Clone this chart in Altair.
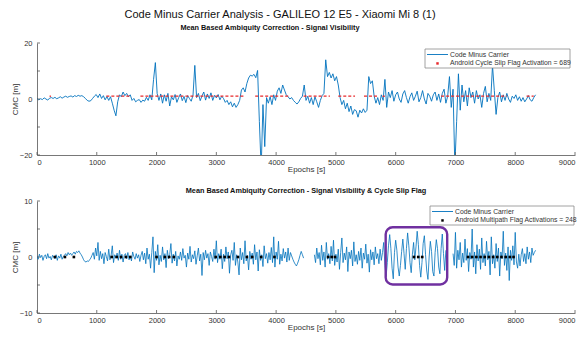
import altair as alt
import pandas as pd

# ---------------- data ----------------
TOP_STEP = 30
BOT_STEP = 20

top_cmc = [
    0.2, -0.3, 0.1, -0.2, 0.4, 0.0, -0.4, 0.3, 0.5, 0.2,
    0.6, 0.1, 0.4, 0.8, 0.3, 0.7, 1.0, 0.6, 0.9, 1.1,
    0.7, 1.2, 0.9, 1.3, 1.0, 1.2, 0.8, 0.2, -0.5, -0.8,
    -0.6, 0.2, 1.0, 1.6, 0.5, 1.8, 0.2, 1.2, -0.3, 0.9,
    -0.5, 0.8, -1.5, -4.0, -6.0, -1.0, 1.5, 0.8, 2.5, 1.2,
    2.0, 0.8, 1.5, -0.5, 0.2, -1.0, -0.5, -0.2, -1.2, -0.4,
    -0.8, 0.6, -0.5, 1.5, -0.3, 7.0, 13.0, 2.0, -0.5, 1.8,
    -1.5, 1.5, -0.8, 2.0, -2.5, 0.8, -0.3, 1.6, -1.2, 0.5,
    1.8, -0.6, 0.9, -1.3, 1.2, 0.2, -0.8, 1.4, 12.0, 0.5,
    2.0, -0.6, 1.1, 2.5, -0.4, 1.8, 0.2, 2.2, -0.5, 1.3,
    0.4, 1.6, -0.3, 1.0, 0.2, -1.2, -0.5, -2.0, -1.0, -2.8,
    -1.5, -3.0, -2.0, -0.5, 3.2, 4.0, 2.5, 5.5, 7.5, 8.5,
    8.2, 8.8, 7.6, 10.2, -8.0, -25.0, -2.0, -17.0, 0.5, -1.5,
    0.8, -2.0, 1.5, -0.5, 2.8, 4.0, 2.0, 5.0, 3.2, 1.5,
    0.8, 0.0, 0.5, -0.5, -1.2, -1.8, -1.0, 0.2, 1.0, 5.0,
    -0.5, 1.0, -1.5, 0.5, -2.0, 0.8, -1.0, -3.0, -0.5, 1.2,
    2.0, 14.0, 8.0, 9.5, 7.5, 9.0, 6.5, 8.0, 5.0, 0.5,
    -2.0, -0.5, -3.5, -1.5, -4.5, -2.5, -5.5, -3.8, -4.2, -6.5,
    -4.0, -5.0, -3.5, -4.8, -4.0, 8.0, 5.5, 6.5, 1.0, -1.5,
    0.5, -2.0, 1.5, -0.5, 7.0, -3.0, 2.5, 0.5, 3.0, -0.8,
    1.5, 2.5, 0.0, -1.2, 1.8, 3.0, 0.5, -1.5, 0.8, 2.2,
    -0.5, 1.0, 2.8, -1.0, 0.5, 3.0, 0.0, -1.8, 2.0, 1.0,
    -0.8, 1.5, 2.5, -0.5, 1.8, -1.2, 2.0, 3.5, -1.5, 1.0,
    8.0, -3.0, 3.5, -24.0, -8.0, 9.0, -4.0, 5.0, -1.0, 3.0,
    -2.5, 4.0, 0.5, 2.5, -1.5, 3.0, 0.0, 1.5, -3.0, 2.0,
    4.5, -1.0, 2.0, -0.5, 12.0, 3.0, -5.5, 0.5, 2.5, -1.0,
    1.5, -0.5, 2.0, 0.0, -1.2, 1.0, 0.2, 1.5, -0.5, 0.8,
    -0.8, 0.5, -1.0, 0.0, 1.2, -0.3, -0.8, 0.5, 1.5,
]

bot_cmc = [
    0.2, -0.4, 0.5, -0.1, 0.3, -0.6, 0.1, 0.4, -0.3, 0.6, -0.2, 0.1, -0.5, 0.3, 0.0,
    -0.3, 0.4, -0.6, 0.2, -0.2, 0.5, -0.4, 0.1, 0.3, 0.6, 0.2, 0.8, 0.4, 0.7, 0.3,
    0.6, 0.9, 0.5, 1.0, 0.8, 1.1, 0.7, 0.4, 0.0, -0.5, -0.8, -0.9, -0.7, -0.8, -0.5,
    -0.2, 0.3, 0.8, -0.4, 1.6, 0.2, 2.6, -0.6, 1.0, -0.3, 0.6, -1.2, 0.8, 0.1, -0.7,
    1.4, -0.5, 0.3, 2.0, -1.0, 0.4, -0.2, 0.7, -0.6, 1.2, -0.4, 0.5, -0.9, 0.3, 0.6,
    -0.3, 0.8, -0.5, 0.2, -0.7, 0.9, 0.1, -0.4, 0.6, -0.2, 0.4, -0.8, 0.3, 1.0, -0.5,
    0.7, -1.2, 1.6, -0.4, 0.5, -2.0, 0.8, 3.6, -2.8, 1.0, -0.6, 2.2, -1.4, 0.3, -0.8,
    1.8, -0.5, 0.6, -1.9, 1.2, -0.3, 0.4, 2.4, -1.1, 0.5, -0.7, 1.0, -1.6, 0.2, -0.4,
    0.9, -0.6, 1.5, -0.2, 0.3, -1.8, 0.7, -0.4, 1.9, -0.9, 0.4, -0.3, 1.1, -1.3, 0.2,
    1.6, -0.7, 0.5, -3.3, 0.8, -0.5, 1.2, -0.2, 0.6, -1.5, 0.9, 0.1, -0.8, 1.4, -0.4,
    2.9, -1.0, 0.6, -0.4, 1.4, -2.1, 0.5, -0.8, 1.8, -0.3, 0.9, -2.9, 0.4, 1.2, -0.6,
    2.6, -1.5, 0.4, -0.9, -3.2, 1.6, -0.5, 0.8, -1.2, 2.9, -0.7, 0.3, -2.3, 1.0, -0.4,
    0.7, -1.3, 2.2, -0.5, 0.9, -2.5, 1.3, -0.6, 0.4, -1.7, 2.0, -0.3, 0.6, -1.1, 0.8,
    -0.5, 1.7, -1.0, 3.6, -1.8, 0.9, -0.4, 2.8, -1.3, 0.5, -0.7, 1.5, -0.2, 0.9, -0.9,
    1.6, -0.6, 0.8, 0.2, -0.4, -0.9, -1.3, -1.6, -1.1, -0.5, 0.3, 1.0, 0.4, -0.2, None,
    None, None, None, None, None, None, None, 0.4, -1.0, 1.6, -0.3, 0.8, -1.4, 2.1, -0.6,
    0.9, -1.8, 2.6, -0.4, 0.6, -1.2, 1.9, -0.7, 3.0, -1.5, 0.5, -0.9, 1.4, -2.2, 0.8,
    3.4, -1.0, 0.7, -0.5, 1.8, -2.6, 0.9, -0.3, 1.2, -1.6, 2.7, -0.8, 0.4, -1.3, 1.0,
    -0.6, 1.6, -2.0, 0.7, -0.4, 2.3, -1.1, 0.5, -2.7, 1.3, -0.5, 0.9, -1.4, 1.8, -0.3,
    0.6, -1.2, 1.4, -0.6, 0.8, 2.6, -1.5, -3.5, -1.0, 2.0, 4.0, 1.5, -2.0, -3.9, 0.8,
    3.0, 1.2, -1.8, -3.4, -1.5, 1.0, 3.2, 0.6, -2.2, 1.5, 4.3, 2.0, -1.0, -2.8, 0.5,
    2.6, -0.5, 1.8, 4.6, 2.2, -1.5, -3.6, -1.0, 2.4, 3.8, 0.4, -2.5, -4.0, 0.0, 2.8,
    1.0, -2.6, -3.4, 0.8, 3.1, 1.5, -1.8, -3.0, 1.5, 4.1, 0.6, -2.4, 1.2, None, None,
    None, None, None, 0.6, -1.5, 4.4, -2.0, 1.2, -0.5, 2.6, -1.8, 0.7, -1.0, 3.2, -0.6,
    1.5, -2.6, 0.8, -0.4, 5.0, -1.8, 0.9, -3.0, 2.2, -0.7, 1.4, -2.2, 3.4, -1.0, 0.6,
    -1.6, 2.8, -0.5, 1.0, -3.2, 3.6, -1.2, 0.4, -2.0, 2.4, -0.8, 1.6, -3.4, 0.9, -0.3,
    4.6, -1.5, 0.7, -2.4, 1.8, -4.2, 1.2, -0.6, 2.0, -1.4, 4.4, -0.9, -2.0, 0.5, -1.6,
    0.4, 1.5, -0.8, 0.6, -1.2, 1.8, -0.4, 0.9, -1.0, 1.6, 0.3, 0.8, 1.2,
]

# cycle-slip flag runs (epoch ranges), drawn at CMC = 1
slip_start = [210, 1160, 1730, 3650, 4460, 5040, 5470, 5780, 6760, 8190]
slip_end = [235, 1560, 3480, 4220, 4900, 5320, 5690, 5820, 7860, 8310]
slip_level = 1.0

# multipath flag epochs, drawn at CMC = 0
mp_epochs = [300, 467, 617, 1250, 1333, 1405, 1488, 1561, 2000, 2139, 2211,
             2289, 2989, 3067, 3139, 3211, 3361, 3511, 3600, 3750, 3972,
             4870, 4930, 4985, 6306, 6378, 6444, 7211, 7280, 7350, 7420,
             7490, 7560, 7630, 7700, 7770, 7840, 7910, 7972]

# highlighted region (epochs, CMC)
box_x = [5833, 6862]
box_y = [5.3, -4.9]

x_ticks = [0, 1000, 2000, 3000, 4000, 5000, 6000, 7000, 8000, 9000]
top_y_ticks = [-20, -10, 0, 10, 20]
bot_y_ticks = [-10, -5, 0, 5, 10]

main_title = "Code Minus Carrier Analysis - GALILEO 12 E5 - Xiaomi Mi 8 (1)"
top_title = "Mean Based Ambiquity Correction - Signal Visibility"
bot_title = "Mean Based Ambiquity Correction - Signal Visibility & Cycle Slip Flag"
top_legend = ["Code Minus Carrier", "Android Cycle Slip Flag Activation = 689"]
bot_legend = ["Code Minus Carrier", "Android Multipath Flag Activations = 248"]

# ---------------- styling ----------------
BLUE = "#0072BD"
RED = "#E8282B"
PURPLE = "#7030A0"
AXC = "#555555"
TXT = "#333333"
FONT = "Liberation Sans"
W, H = 538, 112


def series_df(vals, step):
    df = pd.DataFrame({"epoch": [i * step for i in range(len(vals))],
                       "cmc": pd.to_numeric(pd.Series(vals), errors="coerce")})
    df["seg"] = df["cmc"].isna().cumsum()
    return df.dropna()


xscale = alt.Scale(domain=[0, 9000], nice=False, zero=False)
xaxis = alt.Axis(values=x_ticks, format="d", title="Epochs [s]", tickSize=0,
                 labelPadding=3, titlePadding=0, grid=False, labelFlush=True)


def ticks_layer(yscale, yticks):
    xt = alt.Chart(pd.DataFrame({"t": x_ticks})).mark_rule(
        color=AXC, strokeWidth=0.8).encode(
        x=alt.X("t:Q", scale=xscale), y=alt.value(H), y2=alt.value(H - 3))
    yt = alt.Chart(pd.DataFrame({"t": yticks})).mark_rule(
        color=AXC, strokeWidth=0.8).encode(
        y=alt.Y("t:Q", scale=yscale), x=alt.value(0), x2=alt.value(3))
    return xt + yt


def legend_layers(bx0, bx1, by0, by1, labels, marker_color, marker_shape):
    one = pd.DataFrame({"a": [0]})
    box = alt.Chart(one).mark_rect(fill="white", stroke="#8c8c8c",
                                   strokeWidth=0.8).encode(
        x=alt.value(bx0), x2=alt.value(bx1), y=alt.value(by0), y2=alt.value(by1))
    r1 = by0 + (by1 - by0) * 0.29
    r2 = by0 + (by1 - by0) * 0.76
    ln = alt.Chart(one).mark_rule(color=BLUE, strokeWidth=0.9).encode(
        x=alt.value(bx0 + 2), x2=alt.value(bx0 + 23), y=alt.value(r1))
    mk = alt.Chart(one).mark_point(shape=marker_shape, filled=True,
                                   color=marker_color, size=6, opacity=1).encode(
        x=alt.value(bx0 + 12.5), y=alt.value(r2))
    t1 = alt.Chart(one).mark_text(align="left", baseline="middle", fontSize=6.8,
                                  font=FONT, color=TXT).encode(
        x=alt.value(bx0 + 25), y=alt.value(r1), text=alt.value(labels[0]))
    t2 = alt.Chart(one).mark_text(align="left", baseline="middle", fontSize=6.8,
                                  font=FONT, color=TXT).encode(
        x=alt.value(bx0 + 25), y=alt.value(r2), text=alt.value(labels[1]))
    return box + ln + mk + t1 + t2


def yaxis(ticks):
    return alt.Axis(values=ticks, title="CMC [m]", tickSize=0,
                    labelPadding=5, titlePadding=0, grid=False)


# ---------------- top panel ----------------
top_y = alt.Scale(domain=[-20, 20], nice=False)
top_line = alt.Chart(series_df(top_cmc, TOP_STEP)).mark_line(
    color=BLUE, strokeWidth=0.9, clip=True).encode(
    x=alt.X("epoch:Q", scale=xscale, axis=xaxis),
    y=alt.Y("cmc:Q", scale=top_y, axis=yaxis(top_y_ticks)),
    detail="seg:N")
slip = alt.Chart(pd.DataFrame({"s": slip_start, "e": slip_end,
                               "y": [slip_level] * len(slip_start)})).mark_rule(
    color=RED, strokeWidth=1.3, strokeDash=[3, 2]).encode(
    x=alt.X("s:Q", scale=xscale), x2="e:Q", y=alt.Y("y:Q", scale=top_y))

top = alt.layer(
    top_line, slip, ticks_layer(top_y, top_y_ticks),
    legend_layers(388, 533, 6, 25, top_legend, RED, "square"),
).properties(width=W, height=H,
             title=alt.TitleParams(top_title, fontSize=7.3, fontWeight="bold",
                                   font=FONT, color="#111111", offset=8, dx=-36))

# ---------------- bottom panel ----------------
bot_y = alt.Scale(domain=[-10, 10], nice=False)
bot_line = alt.Chart(series_df(bot_cmc, BOT_STEP)).mark_line(
    color=BLUE, strokeWidth=0.8, clip=True).encode(
    x=alt.X("epoch:Q", scale=xscale, axis=xaxis),
    y=alt.Y("cmc:Q", scale=bot_y, axis=yaxis(bot_y_ticks)),
    detail="seg:N")
mp = alt.Chart(pd.DataFrame({"e": mp_epochs, "y": [0] * len(mp_epochs)})).mark_square(
    color="black", size=7, opacity=1).encode(
    x=alt.X("e:Q", scale=xscale), y=alt.Y("y:Q", scale=bot_y))
box = alt.Chart(pd.DataFrame({"x0": [box_x[0]], "x1": [box_x[1]],
                              "y0": [box_y[0]], "y1": [box_y[1]]})).mark_rect(
    fill=None, fillOpacity=0, stroke=PURPLE, strokeWidth=2.4, cornerRadius=7).encode(
    x=alt.X("x0:Q", scale=xscale), x2="x1:Q",
    y=alt.Y("y0:Q", scale=bot_y), y2="y1:Q")

bot = alt.layer(
    bot_line, mp, box, ticks_layer(bot_y, bot_y_ticks),
    legend_layers(393, 537, 5, 24, bot_legend, "black", "square"),
).properties(width=W, height=H,
             title=alt.TitleParams(bot_title, fontSize=7.3, fontWeight="bold",
                                   font=FONT, color="#111111", offset=3))

chart = alt.vconcat(top, bot, spacing=12).properties(
    title=alt.TitleParams(main_title, fontSize=11, fontWeight="normal", font=FONT,
                          color="#111111", anchor="middle", offset=4, dx=-14),
    padding={"left": 3, "top": 0, "right": 0, "bottom": 0},
).configure_view(stroke=None).configure_axis(
    domainColor=AXC, domainWidth=0.8, labelColor=TXT, titleColor=TXT,
    labelFont=FONT, titleFont=FONT, labelFontSize=7.5, titleFontSize=8,
    titleFontWeight="normal",
).configure_concat(spacing=12)

chart.save("out.html", embed_options={"renderer": "svg", "actions": False})
